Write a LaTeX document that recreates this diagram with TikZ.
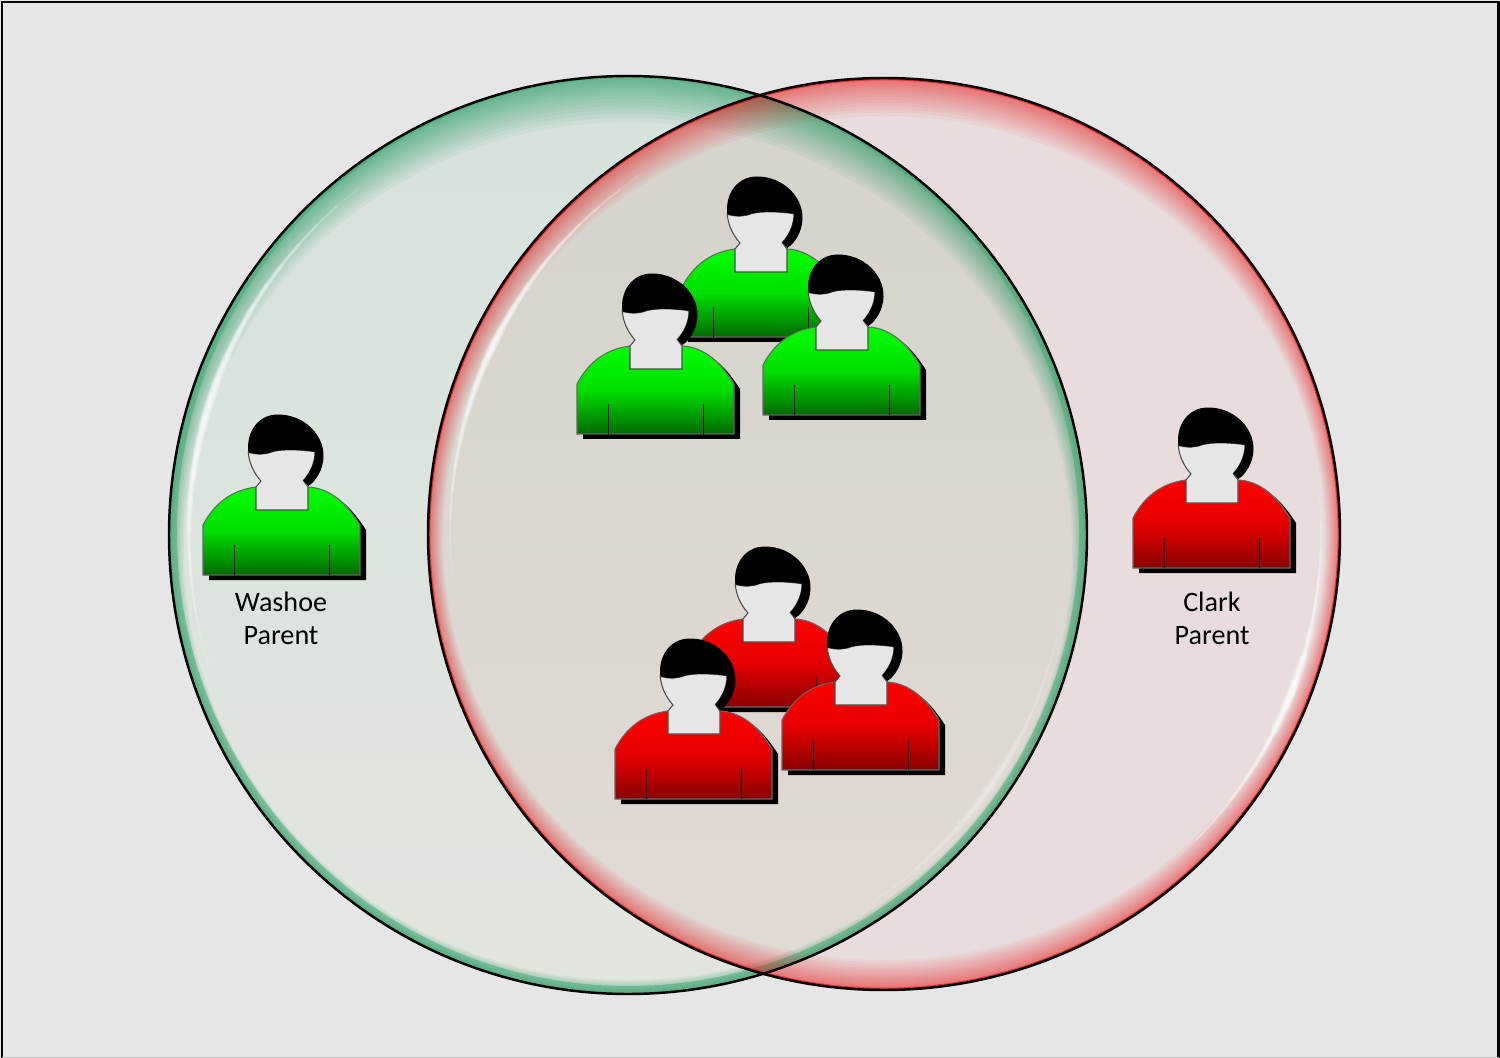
\documentclass[tikz,border=0pt]{standalone}
\usepackage{fontspec}
\setmainfont{Carlito}
\definecolor{paper}{HTML}{E6E6E6}
\definecolor{washoeTop}{HTML}{D5E2DC}
\definecolor{washoeBot}{HTML}{E3E6DF}
\definecolor{clarkFill}{HTML}{E8DCDC}
\definecolor{bothTop}{HTML}{D4D3CC}
\definecolor{bothBot}{HTML}{E2DAD5}
\definecolor{rimGreen}{HTML}{1F9A5E}
\definecolor{rimRed}{HTML}{EE1C1C}
\definecolor{shirtGreen}{HTML}{00FF00}
\definecolor{darkGreen}{HTML}{006A00}
\definecolor{shirtRed}{HTML}{FF0000}
\definecolor{darkRed}{HTML}{8A0000}
\tikzset{
    rimband/.style={even odd rule},
    glint/.style={draw=white, line cap=round},
    ring/.style={draw=black, line width=0.7pt},
    label/.style={align=center, text=black, font=\fontsize{8}{9.4}\selectfont},
    pics/parent/.style 2 args={code={
        % shadow
        \fill[black] (6,5) -- (6,-45) .. controls (18,-70) and (35,-83) .. (59,-83) -- (111,-83) .. controls (135,-83) and (150,-65) .. (163,-45) -- (163,5) -- cycle;
        % shirt
        \path[draw=black!60, line width=0.3pt, top color=#1, bottom color=#2, middle color=#1!78!#2] (0,0) -- (0,-50) .. controls (12,-73) and (30,-85) .. (53,-88) -- (105,-88) .. controls (128,-87) and (145,-70) .. (157,-50) -- (157,0) -- cycle;
        \draw[line width=0.35pt] (31.5,-30) -- (31.5,0);
        \draw[line width=0.35pt] (126.5,-30) -- (126.5,0);
        % face and neck
        \draw[draw=black!70, line width=0.3pt, fill=paper] (45.3,-122.7) .. controls (46,-113) and (50,-103) .. (58,-94) -- (53,-88) -- (53,-65) -- (105,-65) -- (105,-88) -- (100.3,-94.5) .. controls (108,-103) and (112,-113) .. (112,-123.3) .. controls (97,-125.5) and (80,-126) .. (70,-123.5) .. controls (62,-120.5) and (55,-120) .. cycle;
        % hair
        \fill[black] (45.3,-122.7) .. controls (43,-143) and (55,-160.5) .. (75,-160.5) .. controls (90,-160.5) and (100,-154) .. (105,-150) .. controls (115,-142) and (121,-130) .. (120.5,-118) .. controls (120,-105) and (113,-94) .. (105.3,-89) -- (100.3,-94.5) .. controls (108,-103) and (112,-113) .. (112,-123.3) .. controls (97,-125.5) and (80,-126) .. (70,-123.5) .. controls (62,-120.5) and (55,-120) .. cycle;
    }}
}
% centre x, centre y, radius, colour, opacity, fade at top, at the sides, at the bottom
\newcommand{\glassrim}[8]{
    \foreach \t in {1,...,16} {
        \pgfmathsetmacro{\f}{pow(\t/16,1.5)}
        \fill[rimband, #4, fill opacity=#5] (#1,#2) circle[radius=#3]
            ({#1},{#2+\f*(#6-#8)/2}) ellipse[x radius={#3-\f*#7}, y radius={#3-\f*(#6+#8)/2}];
    }
}
% centre x, centre y, radius, from angle, to angle, opacity
\newcommand{\glassglint}[6]{
    \foreach \k in {0,...,9} {
        \draw[glint, draw opacity=#6, line width={(1+\k)*0.26pt}] ({#1+(#3)*cos(#4+\k*3.5)},{#2+(#3)*sin(#4+\k*3.5)})
            arc[start angle={#4+\k*3.5}, end angle={#5-\k*3.5}, radius=#3];
    }
}
\begin{document}
\begin{tikzpicture}[x=0.01cm, y=-0.01cm]
    \useasboundingbox (0,0) rectangle (1500,1058);
    \fill[paper] (0,0) rectangle (1500,1058);
    \draw[line width=0.7pt] (2,1058) -- (2,2) -- (1498.5,2) -- (1498.5,1058);
    \draw[black!25, line width=0.3pt] (2,1057.5) -- (1498.5,1057.5);

    % tinted discs
    \coordinate (washoe) at (628,535);
    \coordinate (clark) at (884,534);
    \path[top color=washoeTop, bottom color=washoeBot] (washoe) circle[radius=459];
    \fill[clarkFill] (clark) circle[radius=456];
    \begin{scope}
        \clip (washoe) circle[radius=459];
        \path[top color=bothTop, bottom color=bothBot] (clark) circle[radius=456];
    \end{scope}

    % rims
    \glassrim{628}{535}{459}{rimGreen}{0.06}{46}{15}{14}
    \fill[rimband, rimGreen!85, fill opacity=0.5] (washoe) circle[radius=459] (628,532) ellipse[x radius=451, y radius=454];
    \glassrim{884}{534}{456}{rimRed}{0.05}{38}{15}{30}
    \draw[rimRed, line width=0.45pt, draw opacity=0.8] (clark) circle[radius=454.5];
    \glassglint{628}{535}{439}{163}{232}{0.16}
    \glassglint{628}{535}{441}{10}{60}{0.07}
    \glassglint{884}{534}{434}{175}{236}{0.16}
    \glassglint{884}{534}{437}{-5}{48}{0.18}
    \draw[ring] (washoe) circle[radius=459];
    \draw[ring] (clark) circle[radius=456];

    % people
    \pic (pw) at (203,575) {parent={shirtGreen}{darkGreen}};
    \pic (pc) at (1133,568) {parent={shirtRed}{darkRed}};
    \pic (gt) at (682,337) {parent={shirtGreen}{darkGreen}};
    \pic (gl) at (577,434) {parent={shirtGreen}{darkGreen}};
    \pic (gr) at (763,415) {parent={shirtGreen}{darkGreen}};
    \pic (rt) at (690,707) {parent={shirtRed}{darkRed}};
    \pic (rl) at (615,799) {parent={shirtRed}{darkRed}};
    \pic (rr) at (782,770) {parent={shirtRed}{darkRed}};

    \node[label] (wlabel) at (281,618) {Washoe\\Parent};
    \node[label] (clabel) at (1212,618) {Clark\\Parent};
\end{tikzpicture}
\end{document}
